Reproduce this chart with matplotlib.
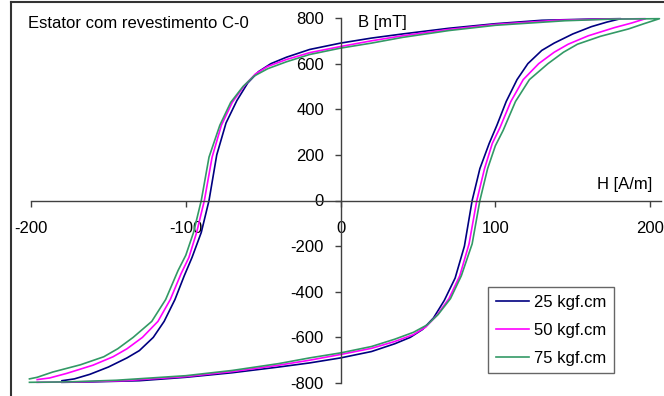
import matplotlib
matplotlib.use('Agg')
import matplotlib.pyplot as plt
from matplotlib.lines import Line2D

plt.rcParams['font.family'] = ['Liberation Sans', 'DejaVu Sans']
plt.rcParams['axes.unicode_minus'] = False

# ascending branch (lower) and descending branch (upper) of each loop
h25_dn = [-180, -160, -130, -100, -70, -40, -20, 0, 20, 35, 45, 53, 60, 67, 74, 80, 85, 90, 96, 101, 107, 114, 121, 130, 138, 150, 162, 172, 181]
b25_dn = [-797, -795, -790, -775, -755, -730, -712, -690, -662, -628, -600, -565, -515, -438, -340, -200, 0, 140, 250, 330, 434, 530, 600, 658, 690, 730, 762, 782, 797]
h25_up = [181, 160, 130, 100, 70, 40, 20, 0, -20, -35, -45, -53, -60, -67, -74, -80, -85, -90, -96, -101, -107, -114, -121, -130, -138, -150, -162, -172, -180]
b25_up = [797, 795, 790, 775, 755, 730, 712, 690, 662, 628, 600, 565, 515, 438, 340, 200, 0, -140, -250, -330, -434, -530, -600, -658, -690, -730, -762, -782, -790]

h50_dn = [-196, -170, -140, -100, -70, -40, -20, 0, 20, 35, 47, 55, 62, 70, 77, 83, 88, 93, 98, 103, 110, 118, 128, 138, 147, 160, 177, 188, 197]
b50_dn = [-797, -795, -790, -772, -750, -722, -700, -675, -648, -618, -588, -555, -505, -430, -330, -190, 0, 140, 250, 320, 434, 530, 600, 650, 685, 722, 758, 778, 797]
h50_up = [197, 170, 140, 100, 70, 40, 20, 0, -20, -35, -47, -55, -62, -70, -77, -83, -88, -93, -98, -103, -110, -118, -128, -138, -147, -160, -177, -188, -196]
b50_up = [797, 795, 790, 772, 750, 722, 700, 675, 648, 618, 588, 555, 505, 430, 330, 190, 0, -140, -250, -320, -434, -530, -600, -650, -685, -722, -758, -778, -785]

h75_dn = [-201, -175, -145, -100, -70, -40, -20, 0, 20, 35, 47, 56, 63, 71, 78, 85, 90, 95, 100, 105, 113, 122, 134, 144, 153, 168, 186, 196, 206]
b75_dn = [-797, -795, -788, -768, -745, -715, -690, -668, -640, -608, -578, -545, -500, -430, -330, -190, 0, 140, 240, 307, 434, 530, 600, 650, 685, 720, 752, 775, 797]
h75_up = [206, 175, 145, 100, 70, 40, 20, 0, -20, -35, -47, -56, -63, -71, -78, -85, -90, -95, -100, -105, -113, -122, -134, -144, -153, -168, -186, -196, -201]
b75_up = [797, 795, 788, 768, 745, 715, 690, 668, 640, 608, 578, 545, 500, 430, 330, 190, 0, -140, -240, -307, -434, -530, -600, -650, -685, -720, -752, -775, -782]

labels = ['25 kgf.cm', '50 kgf.cm', '75 kgf.cm']
colors = ['#000080', '#FF00FF', '#339966']

fig = plt.figure(figsize=(6.64, 3.96), dpi=100)
ax = fig.add_axes([31/664, 13/396, 630/664, 365/396])

series = [(h25_dn, b25_dn, h25_up, b25_up),
          (h50_dn, b50_dn, h50_up, b50_up),
          (h75_dn, b75_dn, h75_up, b75_up)]
for (hd, bd, hu, bu), lab, c in zip(series, labels, colors):
    ax.plot(hd + hu, bd + bu, color=c, lw=1.2, label=lab, clip_on=False)

ax.set_xlim(-200, 207)
ax.set_ylim(-800, 800)
ax.set_xticks([-200, -100, 0, 100, 200])
ax.set_yticks(range(-800, 801, 200))

for s in ['top', 'right']:
    ax.spines[s].set_visible(False)
ax.spines['left'].set_position(('data', 0))
ax.spines['bottom'].set_position(('data', 0))
for s in ['left', 'bottom']:
    ax.spines[s].set_color('#404040')
    ax.spines[s].set_linewidth(1.0)
ax.tick_params(axis='x', direction='out', length=4, width=1, color='#404040', pad=11, labelsize=12)
ax.tick_params(axis='y', direction='out', length=4, width=1, color='#404040', pad=8, labelsize=12)

ax.patch.set_visible(False)

fig.text(28/664, 1 - 23/396, 'Estator com revestimento C-0', fontsize=12, va='center', ha='left')
fig.text(358/664, 1 - 23/396, 'B [mT]', fontsize=12, va='center', ha='left')
fig.text(652/664, 1 - 185/396, 'H [A/m]', fontsize=12, va='center', ha='right')

leg = ax.legend(loc='upper left', bbox_to_anchor=(488/664, 1 - 287/396), bbox_transform=fig.transFigure,
                fontsize=12, frameon=True, fancybox=False, borderaxespad=0, handlelength=2.0,
                handletextpad=0.3, labelspacing=0.78, borderpad=0.45)
leg.get_frame().set_edgecolor('#404040')
leg.get_frame().set_linewidth(1.0)

# outer chart border (left and top edges visible)
fig.add_artist(Line2D([11/664, 11/664], [0, 1 - 2/396], transform=fig.transFigure, color='#333333', lw=1.5))
fig.add_artist(Line2D([11/664, 1], [1 - 2/396, 1 - 2/396], transform=fig.transFigure, color='#333333', lw=1.5))

plt.savefig('out.png', dpi=100)
